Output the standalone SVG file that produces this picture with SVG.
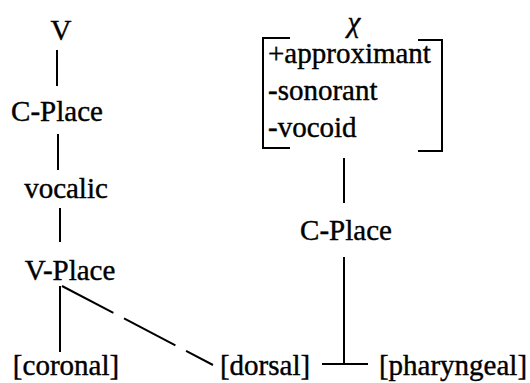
<svg xmlns="http://www.w3.org/2000/svg" width="530" height="383" viewBox="0 0 530 383">
  <style>
    text { font-family: 'Liberation Serif', 'DejaVu Serif', serif; font-size: 29px; fill: #000; stroke: #000; stroke-width: 0.4; }
    .m { text-anchor: middle; }
    .ln { stroke: #000; stroke-width: 2; fill: none; }
    .dash { stroke-dasharray: 58 12; }
  </style>
  <rect width="530" height="383" fill="#fff"/>

  <!-- connectors -->
  <g id="connectors">
    <line class="ln" x1="57" y1="50" x2="57" y2="86"/>
    <line class="ln" x1="58" y1="134" x2="58" y2="170"/>
    <line class="ln" x1="60" y1="208" x2="60" y2="242"/>
    <line class="ln" x1="60" y1="286" x2="60" y2="352"/>
    <line class="ln dash" x1="62" y1="286" x2="213" y2="365"/>
    <line class="ln" x1="344" y1="158" x2="344" y2="203"/>
    <line class="ln" x1="344" y1="257" x2="344" y2="364"/>
    <line class="ln" x1="322" y1="364" x2="368" y2="364"/>
  </g>

  <!-- left tree -->
  <g id="v"><text class="m" x="61" y="40">V</text></g>
  <g id="c-place-left"><text class="m" x="57" y="121">C-Place</text></g>
  <g id="vocalic"><text class="m" x="66" y="198">vocalic</text></g>
  <g id="v-place"><text class="m" x="70" y="280">V-Place</text></g>
  <g id="coronal"><text class="m" x="66" y="375">[coronal]</text></g>
  <g id="dorsal"><text class="m" x="265" y="375">[dorsal]</text></g>
  <g id="pharyngeal"><text class="m" x="453" y="375">[pharyngeal]</text></g>

  <!-- right tree -->
  <g id="chi"><text class="m" x="354" y="32" font-style="italic" font-size="25">χ</text></g>
  <g id="features">
    <path class="ln" d="M290,38 H263 V148 H290"/>
    <path class="ln" d="M418,40 H442 V151 H418"/>
    <text x="268" y="63">+approximant</text>
    <text x="268" y="100">-sonorant</text>
    <text x="268" y="137">-vocoid</text>
  </g>
  <g id="c-place-right"><text class="m" x="346" y="240">C-Place</text></g>
</svg>
